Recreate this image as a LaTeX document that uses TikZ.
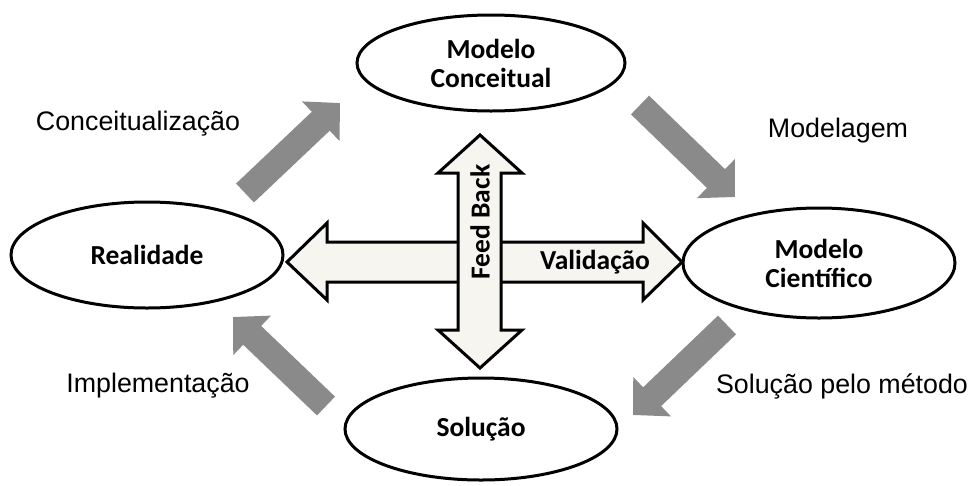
\documentclass[tikz,border=0pt]{standalone}
\usepackage{fontspec}
\setmainfont{Liberation Sans}
\newfontfamily\calibri{Carlito}
\usetikzlibrary{shapes.geometric,arrows.meta}
\definecolor{arrowgray}{RGB}{138,138,138}
\definecolor{crossfill}{RGB}{246,245,240}
\tikzset{
  stage/.style={ellipse,draw,line width=3pt,align=center,inner sep=0pt,
    font=\calibri\bfseries\fontsize{27.5}{29}\selectfont},
  steplabel/.style={font=\fontsize{26.8}{30}\selectfont},
  grayarrow/.style={draw=arrowgray,line width=26pt,
    -{Triangle[width=53pt,length=26.5pt]}},
  crossarrow/.style={draw,fill=crossfill,line width=3pt}
}
\begin{document}
\begin{tikzpicture}[x=1pt,y=-1pt]
\useasboundingbox (0,0) rectangle (971,485);
\node [stage,minimum width=268,minimum height=96] (conc) at (491,63) {Modelo\\Conceitual};
\node [stage,minimum width=272,minimum height=106] (real) at (147,255) {Realidade};
\node [stage,minimum width=272,minimum height=110] (cient) at (819,263) {Modelo\\Científico};
\node [stage,minimum width=272,minimum height=102] (sol) at (481,429) {Solução};

\node [steplabel] (lconc) at (138,124) {Conceitualização};
\node [steplabel] (lmod) at (838,131) {Modelagem};
\node [steplabel] (limp) at (158,386) {Implementação};
\node [steplabel] (lsol) at (842,386) {Solução pelo método};

\coordinate (ul1) at (245,193); \coordinate (ul2) at (340,103);
\coordinate (ur1) at (640,105); \coordinate (ur2) at (735,197);
\coordinate (lr1) at (727,325); \coordinate (lr2) at (633,415);
\coordinate (ll1) at (326,406); \coordinate (ll2) at (233,317);
\draw [grayarrow] (ul1) -- (ul2);
\draw [grayarrow] (ur1) -- (ur2);
\draw [grayarrow] (lr1) -- (lr2);
\draw [grayarrow] (ll1) -- (ll2);

\draw [crossarrow] (287,262) -- (327,223) -- (327,242) -- (643,242) -- (643,223)
  -- (682,262) -- (643,300) -- (643,282) -- (327,282) -- (327,300) -- cycle;
\draw [crossarrow] (480,135) -- (522,173) -- (501,173) -- (501,330) -- (522,330)
  -- (480,368) -- (438,330) -- (458,330) -- (458,173) -- (438,173) -- cycle;
\node [font=\calibri\bfseries\fontsize{27.5}{29}\selectfont,rotate=90] (fb) at (480,222) {Feed Back};
\node [font=\calibri\bfseries\fontsize{27.5}{29}\selectfont] (val) at (595,262) {Validação};
\end{tikzpicture}
\end{document}
